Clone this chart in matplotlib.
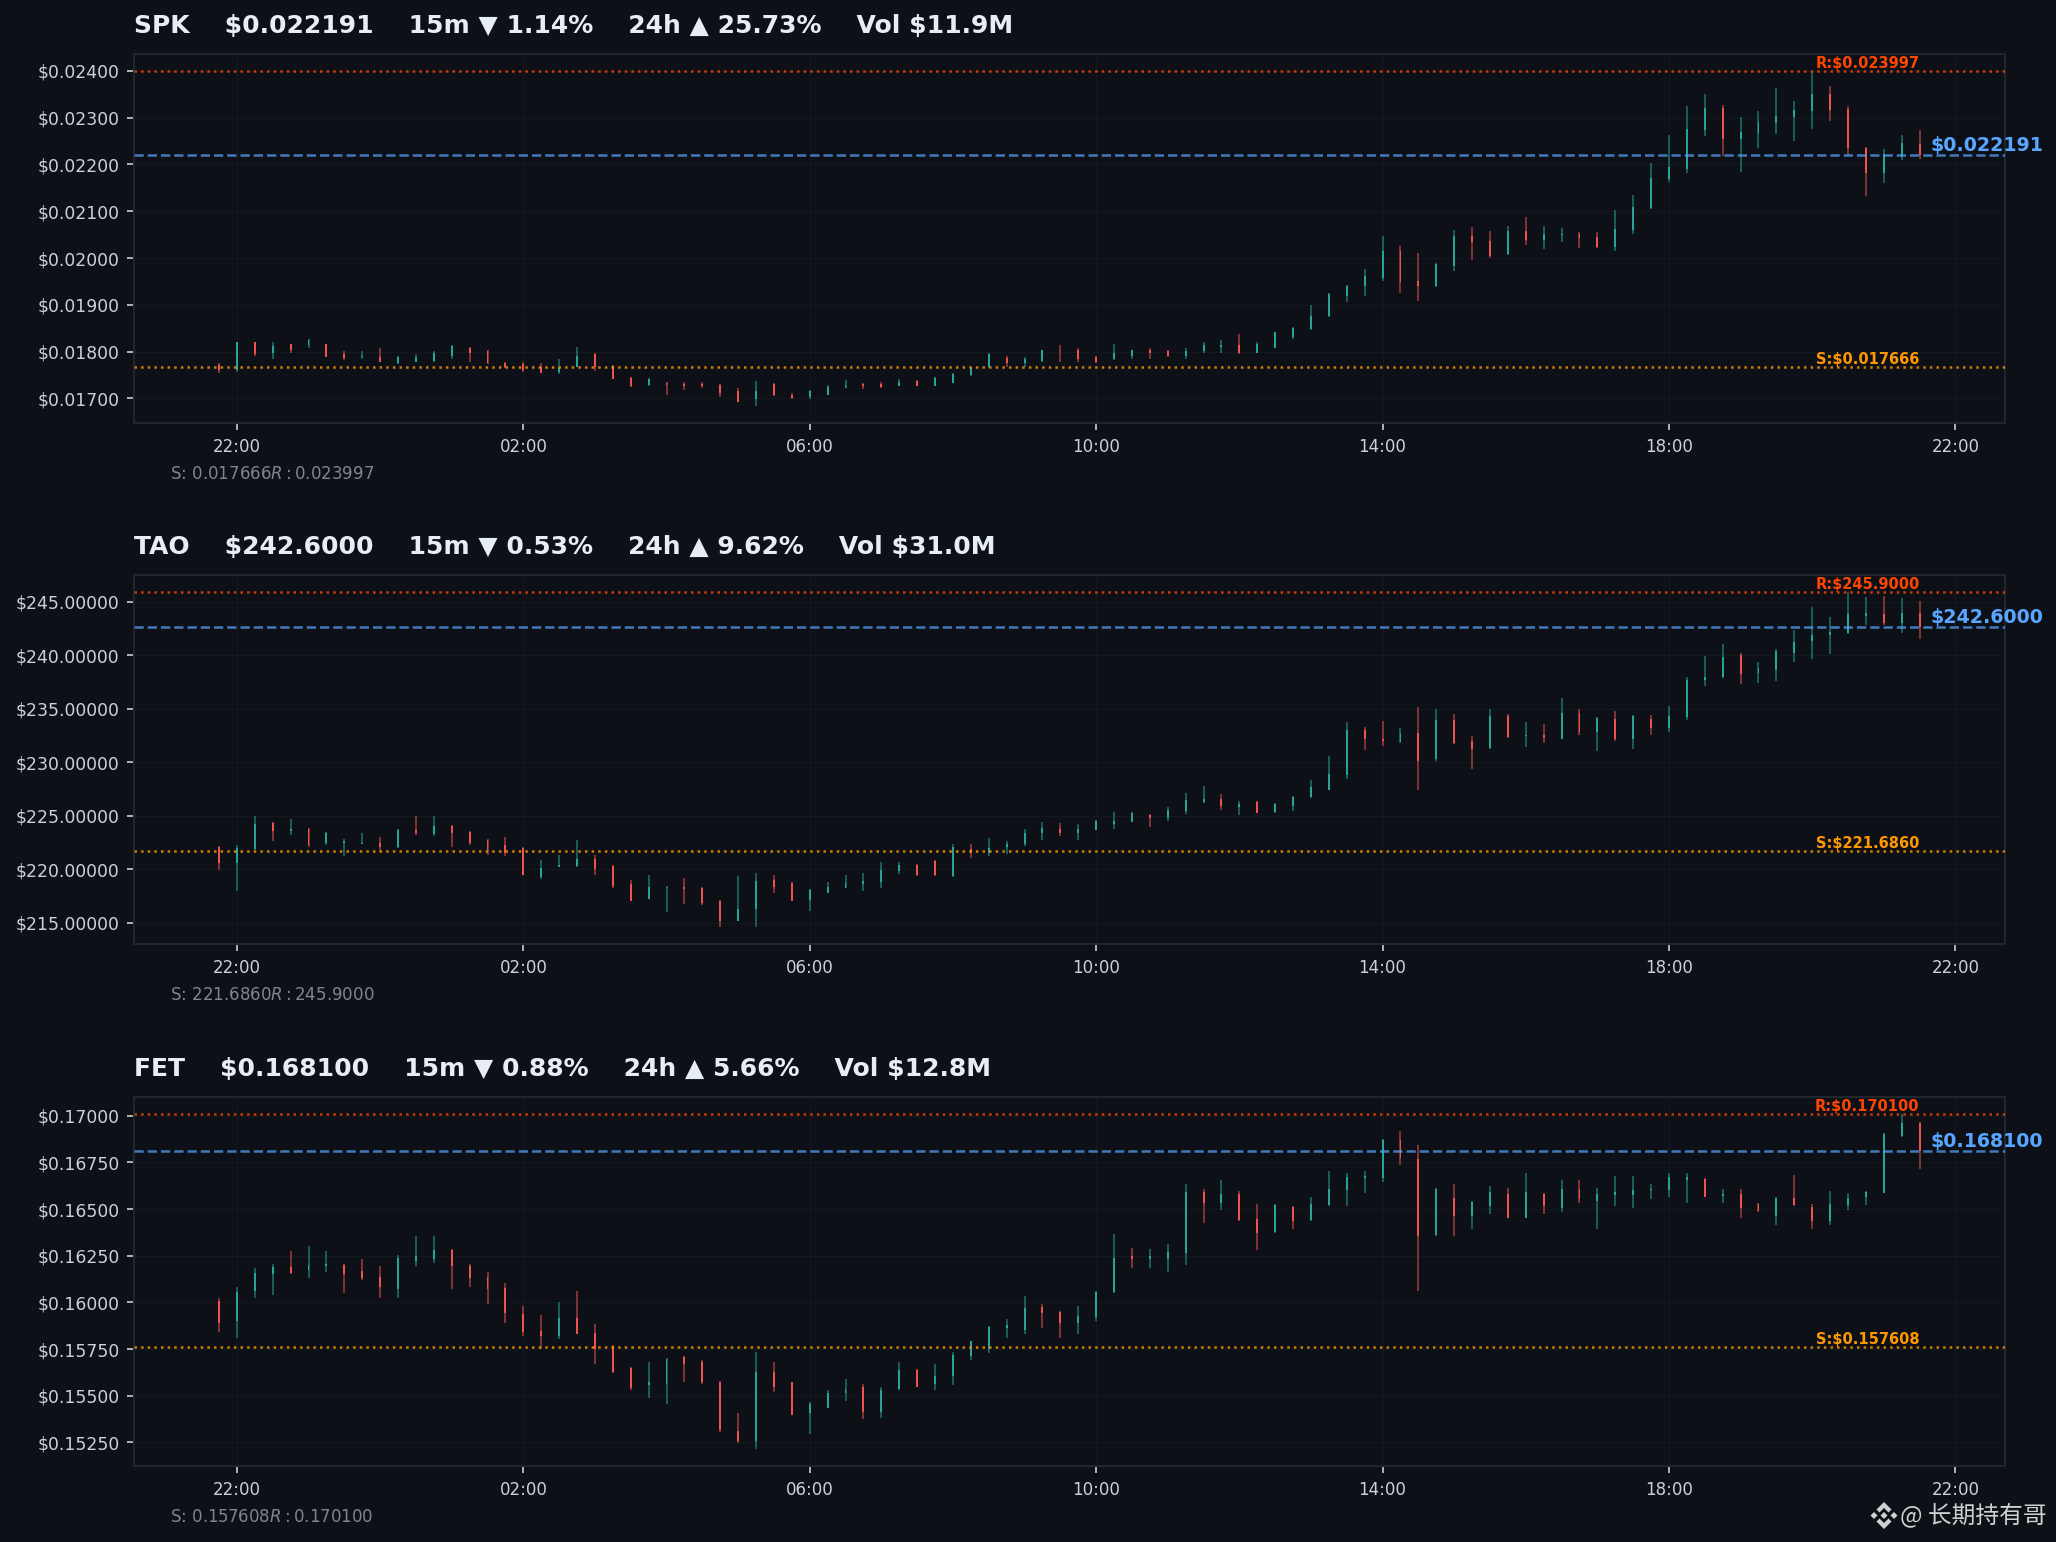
"""Three stacked 15m candlestick panels with support/resistance levels."""

import matplotlib

matplotlib.use("Agg")
import matplotlib.dates as mdates
import matplotlib.pyplot as plt
import numpy as np
import pandas as pd
from matplotlib.patches import Polygon
from matplotlib.ticker import FuncFormatter, MultipleLocator

BG = "#0d1117"
UP = "#26a69a"
DOWN = "#ef5350"
RES = "#ff4500"
SUP = "#ff9800"
LAST = "#58a6ff"

times = pd.date_range("2025-01-01 21:45", periods=96, freq="15min")

spk_high = [
    0.017747, 0.018216, 0.018216, 0.018195, 0.018173, 0.018280, 0.018173, 0.018003, 0.018003, 0.018067,
    0.017896, 0.017939, 0.018003, 0.018131, 0.018109, 0.018045, 0.017789, 0.017768, 0.017747, 0.017853,
    0.018109, 0.017960, 0.017704, 0.017448, 0.017426, 0.017341, 0.017341, 0.017341, 0.017298, 0.017213,
    0.017362, 0.017320, 0.017106, 0.017170, 0.017277, 0.017384, 0.017320, 0.017341, 0.017405, 0.017384,
    0.017448, 0.017533, 0.017661, 0.017960, 0.017896, 0.017875, 0.018045, 0.018131, 0.018067, 0.017896,
    0.018173, 0.018045, 0.018067, 0.018045, 0.018088, 0.018216, 0.018259, 0.018387, 0.018195, 0.018429,
    0.018536, 0.019006, 0.019262, 0.019433, 0.019774, 0.020478, 0.020265, 0.020115, 0.019902, 0.020606,
    0.020670, 0.020585, 0.020692, 0.020884, 0.020692, 0.020649, 0.020564, 0.020564, 0.021033, 0.021353,
    0.022036, 0.022634, 0.023253, 0.023509, 0.023274, 0.023018, 0.023146, 0.023637, 0.023359, 0.023997,
    0.023680, 0.023253, 0.022378, 0.022335, 0.022634, 0.022741,
]
spk_low = [
    0.017533, 0.017562, 0.017917, 0.017853, 0.017981, 0.018067, 0.017875, 0.017811, 0.017832, 0.017768,
    0.017725, 0.017768, 0.017768, 0.017832, 0.017789, 0.017725, 0.017640, 0.017554, 0.017533, 0.017512,
    0.017661, 0.017576, 0.017405, 0.017234, 0.017256, 0.017064, 0.017170, 0.017213, 0.017021, 0.016914,
    0.016829, 0.017042, 0.016978, 0.016978, 0.017064, 0.017213, 0.017192, 0.017213, 0.017256, 0.017256,
    0.017256, 0.017320, 0.017469, 0.017640, 0.017661, 0.017661, 0.017768, 0.017768, 0.017768, 0.017747,
    0.017811, 0.017853, 0.017853, 0.017875, 0.017832, 0.017960, 0.017981, 0.017939, 0.017960, 0.018067,
    0.018280, 0.018472, 0.018750, 0.019070, 0.019198, 0.019518, 0.019262, 0.019091, 0.019390, 0.019731,
    0.019966, 0.020009, 0.020073, 0.020286, 0.020201, 0.020350, 0.020222, 0.020222, 0.020158, 0.020521,
    0.021055, 0.021631, 0.021823, 0.022613, 0.022187, 0.021845, 0.022357, 0.022655, 0.022506, 0.022762,
    0.022932, 0.022207, 0.021332, 0.021609, 0.022100, 0.022122,
]
spk_body_top = [
    0.017704, 0.018202, 0.018202, 0.018116, 0.018159, 0.018259, 0.018159, 0.017939, 0.017896, 0.017889,
    0.017889, 0.017889, 0.017960, 0.018116, 0.018088, 0.018003, 0.017761, 0.017725, 0.017675, 0.017647,
    0.017917, 0.017939, 0.017690, 0.017434, 0.017419, 0.017320, 0.017298, 0.017298, 0.017277, 0.017149,
    0.017149, 0.017305, 0.017078, 0.017149, 0.017248, 0.017291, 0.017305, 0.017305, 0.017341, 0.017362,
    0.017434, 0.017519, 0.017647, 0.017946, 0.017860, 0.017832, 0.018031, 0.018024, 0.018031, 0.017875,
    0.017960, 0.018031, 0.018045, 0.018010, 0.018024, 0.018131, 0.018131, 0.018131, 0.018173, 0.018415,
    0.018515, 0.018771, 0.019240, 0.019411, 0.019625, 0.020158, 0.020158, 0.019518, 0.019881, 0.020478,
    0.020478, 0.020371, 0.020585, 0.020585, 0.020521, 0.020521, 0.020521, 0.020457, 0.020628, 0.021097,
    0.021716, 0.021951, 0.022762, 0.023210, 0.023210, 0.022698, 0.022912, 0.023039, 0.023167, 0.023509,
    0.023509, 0.023189, 0.022357, 0.022228, 0.022463, 0.022442,
]
spk_body_bot = [
    0.017604, 0.017618, 0.017946, 0.017974, 0.018045, 0.018152, 0.017889, 0.017867, 0.017875, 0.017775,
    0.017761, 0.017775, 0.017796, 0.017903, 0.017974, 0.017747, 0.017661, 0.017618, 0.017547, 0.017562,
    0.017668, 0.017661, 0.017419, 0.017263, 0.017277, 0.017291, 0.017263, 0.017263, 0.017120, 0.016928,
    0.016978, 0.017064, 0.017007, 0.017035, 0.017078, 0.017220, 0.017263, 0.017248, 0.017263, 0.017263,
    0.017263, 0.017334, 0.017490, 0.017661, 0.017747, 0.017747, 0.017803, 0.018003, 0.017846, 0.017775,
    0.017832, 0.017903, 0.017960, 0.017917, 0.017917, 0.018003, 0.018109, 0.017960, 0.017974, 0.018088,
    0.018316, 0.018486, 0.018771, 0.019198, 0.019397, 0.019582, 0.019497, 0.019397, 0.019411, 0.019838,
    0.020350, 0.020051, 0.020080, 0.020393, 0.020393, 0.020500, 0.020436, 0.020236, 0.020244, 0.020606,
    0.021076, 0.021695, 0.021908, 0.022741, 0.022549, 0.022549, 0.022677, 0.022890, 0.023018, 0.023146,
    0.023167, 0.022357, 0.021823, 0.021823, 0.022187, 0.022191,
]
spk_dir = "rgrgrgrrgr" "ggggrrrrrg" "grrrgrrrrr" "grrgggrrgr" "ggggrggrrr" "ggrrgggrgg" "ggggggrrgg" "rrgrggrrgg" "ggggrggggg" "rrrggr"

tao_high = [
    222.12, 222.21, 224.92, 224.36, 224.64, 223.80, 223.43, 222.77, 223.33, 222.96,
    223.71, 224.92, 224.92, 224.08, 223.52, 222.77, 222.96, 222.02, 220.81, 221.28,
    222.68, 221.28, 220.34, 218.94, 219.41, 218.38, 219.13, 218.29, 217.07, 219.31,
    219.60, 219.41, 218.75, 218.10, 218.75, 219.41, 219.60, 220.62, 220.62, 220.44,
    220.81, 222.31, 222.31, 222.87, 222.59, 223.71, 224.36, 224.27, 224.17, 224.55,
    225.30, 225.30, 225.11, 225.76, 227.07, 227.73, 226.98, 226.32, 226.32, 226.14,
    226.79, 228.29, 230.53, 233.71, 233.24, 233.80, 233.15, 235.11, 234.92, 234.45,
    232.40, 234.92, 234.45, 233.71, 233.52, 235.95, 234.92, 234.17, 234.73, 234.36,
    234.36, 235.20, 237.91, 239.87, 241.00, 240.15, 239.31, 240.53, 242.30, 244.45,
    243.52, 245.90, 245.39, 245.48, 245.29, 245.01,
]
tao_low = [
    219.88, 217.91, 221.74, 222.59, 223.15, 222.02, 222.21, 221.18, 222.31, 221.56,
    221.93, 223.15, 223.05, 222.02, 222.21, 221.28, 221.18, 219.41, 219.03, 220.16,
    220.16, 219.41, 218.19, 216.98, 217.17, 215.95, 216.70, 216.60, 214.55, 215.11,
    214.55, 217.73, 216.98, 216.04, 217.73, 218.19, 217.91, 218.19, 219.50, 219.31,
    219.31, 219.22, 221.00, 221.18, 221.37, 222.12, 222.68, 223.05, 222.68, 223.61,
    223.71, 224.36, 223.89, 224.45, 225.11, 226.14, 225.48, 225.02, 225.20, 225.20,
    225.39, 226.60, 227.35, 228.38, 231.09, 231.46, 231.74, 227.44, 230.15, 231.65,
    229.31, 231.18, 232.21, 231.37, 231.74, 232.12, 232.49, 231.00, 231.93, 231.18,
    232.58, 232.86, 233.89, 237.07, 237.82, 237.26, 237.35, 237.54, 239.31, 239.59,
    240.06, 241.93, 242.77, 242.86, 242.02, 241.46,
]
tao_body_top = [
    222.02, 221.93, 224.17, 224.27, 223.71, 223.71, 223.40, 222.59, 222.40, 222.40,
    223.61, 223.61, 223.99, 224.02, 223.46, 222.68, 222.21, 221.93, 220.06, 220.40,
    220.90, 220.90, 220.28, 218.57, 218.29, 218.29, 218.35, 218.19, 216.98, 216.23,
    218.85, 218.97, 218.66, 218.01, 218.29, 218.66, 218.85, 219.88, 220.34, 220.34,
    220.72, 222.02, 221.84, 221.99, 222.31, 223.33, 223.80, 223.71, 223.71, 224.45,
    224.45, 225.20, 225.02, 225.48, 226.42, 226.51, 226.51, 226.04, 226.23, 226.04,
    226.70, 227.63, 228.85, 232.96, 232.96, 232.12, 232.68, 232.68, 233.89, 233.89,
    231.93, 234.27, 234.27, 232.49, 232.49, 234.55, 234.55, 234.08, 233.99, 234.27,
    233.99, 234.27, 237.72, 238.00, 239.78, 239.97, 238.75, 240.43, 241.18, 241.84,
    242.12, 243.80, 243.89, 243.80, 243.89, 243.89,
]
tao_body_bot = [
    220.53, 220.53, 221.84, 223.52, 223.52, 222.21, 222.40, 222.43, 222.31, 222.02,
    222.02, 223.33, 223.24, 223.33, 222.40, 221.74, 221.46, 219.47, 219.28, 220.22,
    220.28, 219.97, 218.41, 217.04, 217.23, 218.19, 218.16, 216.79, 215.11, 215.17,
    216.23, 218.29, 217.04, 217.07, 217.79, 218.26, 218.60, 218.79, 219.78, 219.41,
    219.41, 219.31, 221.46, 221.53, 222.06, 222.31, 223.33, 223.33, 223.33, 223.68,
    224.17, 224.42, 224.77, 224.73, 225.39, 226.23, 225.86, 225.76, 225.26, 225.30,
    225.86, 226.70, 227.44, 228.75, 232.12, 231.96, 231.84, 230.15, 230.25, 231.74,
    231.18, 231.28, 232.30, 232.40, 232.24, 232.18, 232.86, 232.86, 232.12, 232.12,
    233.15, 233.15, 234.17, 237.72, 237.91, 238.19, 238.29, 238.57, 240.15, 241.28,
    241.84, 242.02, 243.61, 242.96, 242.96, 242.60,
]
tao_dir = "rggrgrgggr" "grgrrrrrgg" "grrrggrrrg" "grrggggggr" "rgrggggrgg" "ggrgggrgrg" "ggggrrgrgr" "rgrgrgrgrg" "rggggrgggg" "gggrgr"

fet_high = [
    0.16025, 0.16084, 0.16185, 0.16207, 0.16276, 0.16303, 0.16276, 0.16207, 0.16233, 0.16196,
    0.16255, 0.16356, 0.16356, 0.16287, 0.16207, 0.16164, 0.16105, 0.15982, 0.15934, 0.16004,
    0.16062, 0.15886, 0.15774, 0.15656, 0.15683, 0.15704, 0.15715, 0.15694, 0.15581, 0.15405,
    0.15736, 0.15683, 0.15576, 0.15464, 0.15533, 0.15592, 0.15565, 0.15544, 0.15683, 0.15645,
    0.15672, 0.15736, 0.15795, 0.15875, 0.15913, 0.16036, 0.15993, 0.15955, 0.15982, 0.16062,
    0.16367, 0.16292, 0.16287, 0.16314, 0.16634, 0.16608, 0.16656, 0.16597, 0.16528, 0.16528,
    0.16517, 0.16565, 0.16704, 0.16693, 0.16704, 0.16875, 0.16918, 0.16843, 0.16613, 0.16634,
    0.16544, 0.16624, 0.16613, 0.16693, 0.16586, 0.16656, 0.16656, 0.16613, 0.16677, 0.16677,
    0.16634, 0.16693, 0.16693, 0.16666, 0.16608, 0.16608, 0.16533, 0.16565, 0.16683, 0.16528,
    0.16597, 0.16586, 0.16597, 0.16907, 0.17010, 0.16966,
]
fet_low = [
    0.15843, 0.15811, 0.16025, 0.16041, 0.16153, 0.16132, 0.16164, 0.16052, 0.16121, 0.16025,
    0.16025, 0.16196, 0.16212, 0.16073, 0.16084, 0.15993, 0.15891, 0.15822, 0.15752, 0.15806,
    0.15832, 0.15672, 0.15624, 0.15533, 0.15490, 0.15453, 0.15571, 0.15565, 0.15303, 0.15244,
    0.15212, 0.15522, 0.15394, 0.15293, 0.15432, 0.15474, 0.15373, 0.15383, 0.15533, 0.15544,
    0.15533, 0.15555, 0.15694, 0.15731, 0.15811, 0.15832, 0.15865, 0.15811, 0.15832, 0.15902,
    0.16052, 0.16185, 0.16185, 0.16164, 0.16201, 0.16426, 0.16495, 0.16437, 0.16282, 0.16372,
    0.16394, 0.16437, 0.16517, 0.16517, 0.16586, 0.16645, 0.16736, 0.16062, 0.16356, 0.16356,
    0.16394, 0.16474, 0.16453, 0.16453, 0.16474, 0.16485, 0.16533, 0.16394, 0.16517, 0.16506,
    0.16554, 0.16565, 0.16533, 0.16565, 0.16533, 0.16453, 0.16485, 0.16415, 0.16517, 0.16394,
    0.16415, 0.16495, 0.16522, 0.16586, 0.16886, 0.16715,
]
fet_body_top = [
    0.16009, 0.16057, 0.16159, 0.16191, 0.16191, 0.16201, 0.16207, 0.16201, 0.16169, 0.16137,
    0.16239, 0.16249, 0.16282, 0.16282, 0.16196, 0.16137, 0.16078, 0.15939, 0.15849, 0.15918,
    0.15918, 0.15838, 0.15768, 0.15651, 0.15571, 0.15699, 0.15710, 0.15678, 0.15576, 0.15309,
    0.15629, 0.15629, 0.15571, 0.15458, 0.15517, 0.15538, 0.15549, 0.15528, 0.15640, 0.15640,
    0.15608, 0.15720, 0.15795, 0.15870, 0.15881, 0.15972, 0.15977, 0.15950, 0.15929, 0.16057,
    0.16239, 0.16249, 0.16249, 0.16271, 0.16592, 0.16592, 0.16581, 0.16581, 0.16447, 0.16522,
    0.16511, 0.16528, 0.16608, 0.16672, 0.16677, 0.16870, 0.16870, 0.16768, 0.16608, 0.16560,
    0.16538, 0.16592, 0.16581, 0.16592, 0.16581, 0.16608, 0.16608, 0.16581, 0.16592, 0.16602,
    0.16608, 0.16672, 0.16672, 0.16661, 0.16581, 0.16581, 0.16528, 0.16560, 0.16560, 0.16511,
    0.16528, 0.16560, 0.16592, 0.16902, 0.16960, 0.16960,
]
fet_body_bot = [
    0.15891, 0.15902, 0.16062, 0.16153, 0.16159, 0.16175, 0.16196, 0.16153, 0.16132, 0.16084,
    0.16073, 0.16223, 0.16233, 0.16196, 0.16132, 0.16073, 0.15945, 0.15843, 0.15822, 0.15822,
    0.15832, 0.15752, 0.15629, 0.15540, 0.15555, 0.15565, 0.15672, 0.15571, 0.15314, 0.15255,
    0.15255, 0.15544, 0.15398, 0.15405, 0.15433, 0.15512, 0.15410, 0.15410, 0.15535, 0.15549,
    0.15565, 0.15603, 0.15715, 0.15752, 0.15865, 0.15854, 0.15945, 0.15891, 0.15891, 0.15923,
    0.16057, 0.16233, 0.16233, 0.16233, 0.16266, 0.16533, 0.16533, 0.16442, 0.16372, 0.16378,
    0.16437, 0.16440, 0.16520, 0.16602, 0.16666, 0.16666, 0.16773, 0.16356, 0.16360, 0.16463,
    0.16463, 0.16517, 0.16454, 0.16454, 0.16517, 0.16506, 0.16554, 0.16544, 0.16576, 0.16576,
    0.16602, 0.16602, 0.16656, 0.16567, 0.16570, 0.16506, 0.16488, 0.16463, 0.16520, 0.16437,
    0.16437, 0.16522, 0.16565, 0.16588, 0.16891, 0.16810,
]
fet_dir = "rgggrggrrr" "gggrrrrrrg" "rrrrggrrrr" "grrgggrggr" "ggggggrrgg" "grgggrgrrg" "rgggggrrgr" "ggrgrgrggg" "gggrgrrgrr" "gggggr"

symbols = ["SPK", "TAO", "FET"]
titles = [
    r"SPK    \$0.022191    15m ▼ 1.14%    24h ▲ 25.73%    Vol \$11.9M",
    r"TAO    \$242.6000    15m ▼ 0.53%    24h ▲ 9.62%    Vol \$31.0M",
    r"FET    \$0.168100    15m ▼ 0.88%    24h ▲ 5.66%    Vol \$12.8M",
]
last_labels = ["0.022191", "242.6000", "0.168100"]
support_labels = ["0.017666", "221.6860", "0.157608"]
resist_labels = ["0.023997", "245.9000", "0.170100"]
tick_steps = [0.001, 5.0, 0.0025]
highs = [spk_high, tao_high, fet_high]
lows = [spk_low, tao_low, fet_low]
body_tops = [spk_body_top, tao_body_top, fet_body_top]
body_bots = [spk_body_bot, tao_body_bot, fet_body_bot]
directions = [spk_dir, tao_dir, fet_dir]
axes_tops_px = [54.2, 575.2, 1097.2]


def draw_panel(fig, i):
    """One candlestick panel, placed by its top edge in pixels."""
    ax = fig.add_axes([134 / 2056, 1 - (axes_tops_px[i] + 369) / 1542, 1870.6 / 2056, 369 / 1542])
    ax.set_facecolor(BG)

    x = mdates.date2num(times)
    high = np.array(highs[i])
    low = np.array(lows[i])
    top = np.array(body_tops[i])
    bot = np.array(body_bots[i])
    colors = [UP if d == "g" else DOWN for d in directions[i]]

    ax.vlines(x, low, high, colors=colors, linewidth=0.8, alpha=0.6, zorder=2)
    ax.bar(x, top - bot, bottom=bot, width=1.6 / 1440, color=colors, linewidth=0, zorder=3)

    last = float(last_labels[i])
    support = float(support_labels[i])
    resist = float(resist_labels[i])
    ax.axhline(resist, color=RES, linestyle=":", linewidth=1.2, alpha=0.8, zorder=4)
    ax.axhline(support, color=SUP, linestyle=":", linewidth=1.2, alpha=0.8, zorder=4)
    ax.axhline(last, color=LAST, linestyle="--", linewidth=1.2, alpha=0.7, zorder=4)

    ax.text(x[-1], resist, f"R:${resist_labels[i]}", color=RES, fontsize=7, fontweight="bold", ha="right", va="bottom")
    ax.text(x[-1], support, f"S:${support_labels[i]}", color=SUP, fontsize=7, fontweight="bold", ha="right", va="bottom")
    ax.text(x[-1] + 9.5 / 1440, last, f"${last_labels[i]}", color=LAST, fontsize=9.1, fontweight="bold", ha="left", va="bottom", clip_on=False)

    lo = low.min()
    hi = max(high.max(), resist)
    pad = 0.05 * (hi - lo)
    ax.set_ylim(lo - pad, hi + pad)
    ax.set_xlim(x[0] - 0.05 * (x[-1] - x[0]), x[-1] + 0.05 * (x[-1] - x[0]))

    ax.yaxis.set_major_locator(MultipleLocator(tick_steps[i]))
    ax.yaxis.set_major_formatter(FuncFormatter(lambda v, _: f"${v:.5f}"))
    ax.xaxis.set_major_locator(mdates.HourLocator(byhour=[22, 2, 6, 10, 14, 18]))
    ax.xaxis.set_major_formatter(mdates.DateFormatter("%H:%M"))
    ax.tick_params(colors="#c9d1d9", labelsize=8)
    ax.tick_params(axis="y", labelsize=8.3)
    ax.grid(True, color="#21262d", linewidth=0.4, alpha=0.4)
    ax.set_axisbelow(True)
    for spine in ax.spines.values():
        spine.set_color("#21262d")
        spine.set_linewidth(1.0)

    ax.set_title(titles[i], loc="left", color="#e6edf3", fontsize=12, fontweight="bold", pad=10)
    # the two dollar signs make this one come out as mathtext, same as the source chart
    ax.text(0.0195, -0.139, f"S: ${support_labels[i]}  R: ${resist_labels[i]}", transform=ax.transAxes,
            color="#7d8590", fontsize=8, va="center")
    return ax


def draw_watermark(fig):
    """Binance-style mark and handle in the bottom right corner."""
    cx, cy = 1884.0, 1515.5
    shapes = [
        [(0, -13.5), (7.5, -6), (4.5, -3), (0, -7.5), (-4.5, -3), (-7.5, -6)],
        [(0, 13.5), (7.5, 6), (4.5, 3), (0, 7.5), (-4.5, 3), (-7.5, 6)],
        [(0, -3.5), (3.5, 0), (0, 3.5), (-3.5, 0)],
        [(-13.5, 0), (-10, -3.5), (-6.5, 0), (-10, 3.5)],
        [(13.5, 0), (10, -3.5), (6.5, 0), (10, 3.5)],
    ]
    for pts in shapes:
        xy = [((cx + px) / 2056, 1 - (cy + py) / 1542) for px, py in pts]
        fig.add_artist(Polygon(xy, closed=True, transform=fig.transFigure, facecolor="#d0d0d0", edgecolor="none"))
    fig.text(2047 / 2056, 1 - 1515 / 1542, "@ 长期持有哥", color="#d0d0d0", fontsize=11.4, ha="right", va="center",
             family=["Noto Sans CJK SC", "DejaVu Sans"])


fig = plt.figure(figsize=(2056 / 150, 1542 / 150), dpi=150, facecolor=BG)
for i in range(len(symbols)):
    draw_panel(fig, i)
draw_watermark(fig)
fig.savefig("out.png", dpi=150, facecolor=BG)
plt.close(fig)
